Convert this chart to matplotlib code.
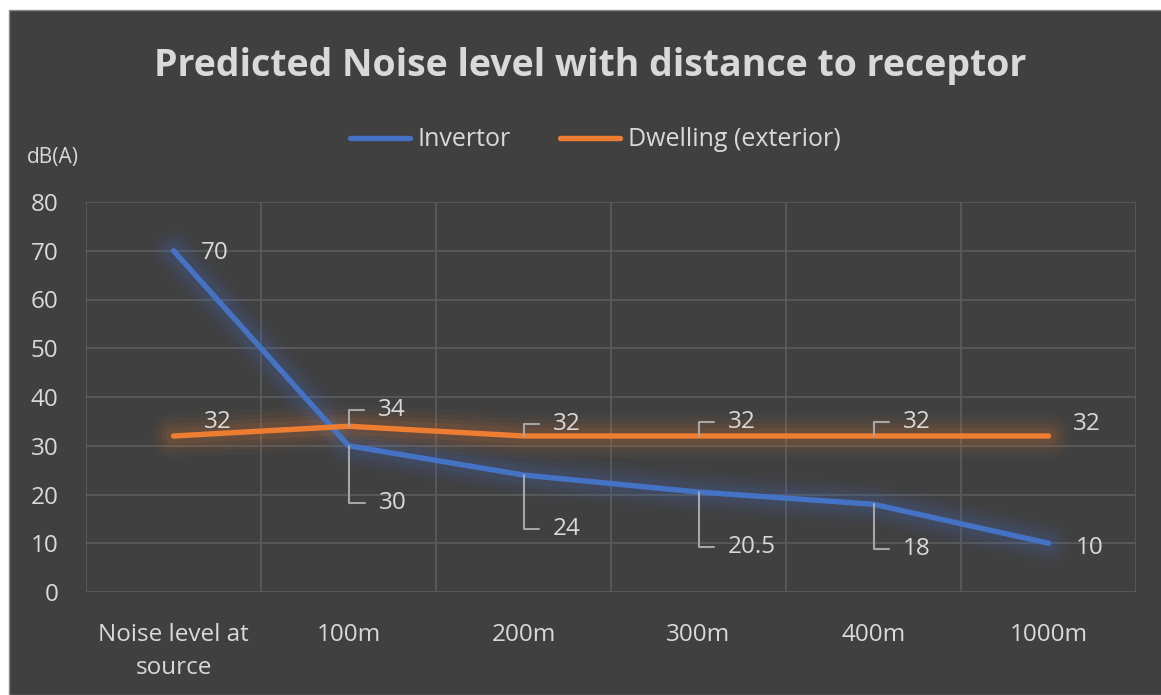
import matplotlib.pyplot as plt
from matplotlib.patches import Rectangle

# Chart data
categories = ["Noise level at\nsource", "100m", "200m", "300m", "400m", "1000m"]
invertor = [70, 30, 24, 20.5, 18, 10]
dwelling = [32, 34, 32, 32, 32, 32]
invertor_labels = ["70", "30", "24", "20.5", "18", "10"]
dwelling_labels = ["32", "34", "32", "32", "32", "32"]

# Label placement (pixel offsets from the point, leader line on/off)
inv_offsets = [(27, -2), (30, -57), (29, -54), (29, -55), (29, -45), (27, -5)]
inv_leader = [False, True, True, True, True, False]
dwe_offsets = [(30, 14), (29, 16), (29, 12), (29, 14), (29, 14), (24, 12)]
dwe_leader = [False, True, True, True, True, False]

bg = "#404040"
txt = "#d9d9d9"
grid = "#5c5c5c"
blue = "#4472c4"
orange = "#ed7d31"

plt.rcParams["font.family"] = ["Open Sans", "DejaVu Sans"]

fig = plt.figure(figsize=(11.61, 6.95), dpi=100, facecolor="white")
fig.patches.append(Rectangle((9 / 1161, 0), 1, 1 - 10 / 695, transform=fig.transFigure,
                             facecolor=bg, edgecolor="#8a8a8a", linewidth=1, zorder=-5))

ax = fig.add_axes([86 / 1161, 1 - 592 / 695, 1050 / 1161, 390 / 695])
ax.set_facecolor(bg)
for s in ax.spines.values():
    s.set_visible(False)

x = list(range(len(categories)))
ax.set_xlim(-0.5, len(categories) - 0.5)
ax.set_ylim(0, 80)
ax.set_yticks(range(0, 81, 10))
ax.set_xticks(x)
ax.set_xticklabels(categories, fontsize=17.5, color=txt, linespacing=1.5)
ax.set_xticks([i - 0.5 for i in range(len(categories) + 1)], minor=True)
ax.tick_params(axis="y", length=0, pad=20, labelsize=17.5, labelcolor=txt)
ax.tick_params(axis="x", which="both", length=0, pad=22)
ax.grid(axis="y", which="major", color=grid, linewidth=1.2)
ax.grid(axis="x", which="minor", color=grid, linewidth=1.2)
ax.set_axisbelow(True)

# Glow effect then main lines
for series, col in [(invertor, blue), (dwelling, orange)]:
    for w, a in [(32, 0.04), (25, 0.05), (18, 0.07), (12, 0.09)]:
        ax.plot(x, series, color=col, linewidth=w, alpha=a, solid_capstyle="round",
                solid_joinstyle="round", zorder=2)
ax.plot(x, invertor, color=blue, linewidth=3.9, solid_capstyle="round",
        solid_joinstyle="round", label="Invertor", zorder=3)
ax.plot(x, dwelling, color=orange, linewidth=3.9, solid_capstyle="round",
        solid_joinstyle="round", label="Dwelling (exterior)", zorder=3)


def add_labels(values, labels, offsets, leaders):
    for xi, v, lab, off, lead in zip(x, values, labels, offsets, leaders):
        kw = {}
        if lead:
            kw["arrowprops"] = dict(arrowstyle="-", color="#a6a6a6", linewidth=1.5,
                                    connectionstyle="angle,angleA=0,angleB=90,rad=0",
                                    relpos=(0, 0.5), shrinkA=8, shrinkB=0)
        ax.annotate(lab, xy=(xi, v), xytext=off, textcoords="offset pixels",
                    ha="left", va="center", fontsize=17.5, color=txt, zorder=4, **kw)


add_labels(invertor, invertor_labels, inv_offsets, inv_leader)
add_labels(dwelling, dwelling_labels, dwe_offsets, dwe_leader)

fig.text(590 / 1161, 1 - 66 / 695, "Predicted Noise level with distance to receptor",
         ha="center", va="center", fontsize=27, fontweight="bold", color=txt)
fig.text(27 / 1161, 1 - 157 / 695, "dB(A)", ha="left", va="center", fontsize=15, color=txt)

leg = fig.legend(loc="center", bbox_to_anchor=(595 / 1161, 1 - 140 / 695), ncol=2,
                 frameon=False, fontsize=18, handlelength=2.4, handletextpad=0.3,
                 columnspacing=2)
for t in leg.get_texts():
    t.set_color(txt)

fig.savefig("out.png", dpi=100, facecolor=fig.get_facecolor())
